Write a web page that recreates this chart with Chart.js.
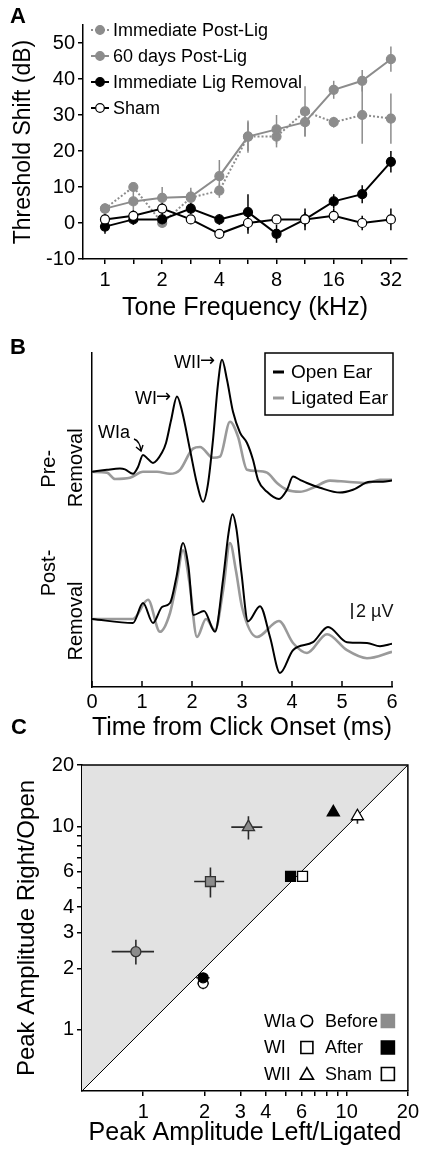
<!DOCTYPE html>
<html><head><meta charset="utf-8">
<script src="https://cdn.jsdelivr.net/npm/chart.js@4.4.1/dist/chart.umd.min.js"></script>
<style>
html,body{margin:0;padding:0;background:#fff;}
#wrap{position:relative;width:423px;height:1153px;overflow:hidden;background:#fff;}
canvas{position:absolute;left:0;top:0;}
</style></head><body>
<div id="wrap">
<canvas id="cA" width="423" height="1153"></canvas>
<canvas id="cB" width="423" height="1153"></canvas>
<canvas id="cC" width="423" height="1153"></canvas>
</div>
<script>
const FONT = "'Liberation Sans', Arial, Helvetica, sans-serif";
Chart.defaults.font.family = FONT;
Chart.defaults.color = '#000';

// ---------------- Panel A data ----------------
const freqKHz = [1, 1.41, 2, 2.83, 4, 5.66, 8, 11.3, 16, 22.6, 32];
const freqTickLabels = ['1', '', '2', '', '4', '', '8', '', '16', '', '32'];
const shiftTicks = [-10, 0, 10, 20, 30, 40, 50];
const immPostLig       = [4, 10, 0, 7, 9, 24, 24, 31, 28, 30, 29];
const immPostLigErr    = [1.5, 1, 1, 2, 2, 4, 3, 7, 1.5, 8, 7];
const days60PostLig    = [4, 6, 7, 7.3, 13, 24, 26, 28, 37, 39.5, 45.5];
const days60PostLigErr = [1, 3, 3, 2.5, 4.5, 4.5, 4, 4, 2.5, 3, 3.5];
const immLigRemoval    = [-1, 1, 1, 4, 1, 3, -3, 1, 6, 8, 17];
const immLigRemovalErr = [2, 1.5, 1.5, 1.5, 1.5, 5, 2.5, 2, 2, 2.5, 3];
const shamShift        = [1, 2, 4, 1, -3, 0, 1, 1, 2, 0, 1];
const shamShiftErr     = [1.5, 1.5, 1.5, 1, 1, 3, 1, 3, 2, 2, 3];

// ---------------- Panel B data (µV traces) ----------------
const timeTicks = [0, 1, 2, 3, 4, 5, 6];
const preOpenTime = [0, 0.3, 0.56, 0.66, 0.82, 0.92, 1.02, 1.12, 1.22, 1.4, 1.48, 1.58, 1.7, 1.8, 1.96, 2.1, 2.22, 2.32, 2.42, 2.52, 2.6, 2.7, 2.82, 2.96, 3.1, 3.22, 3.32, 3.5, 3.74, 3.9, 4.02, 4.16, 4.3, 4.56, 4.96, 5.22, 5.56, 5.82, 6.0];
const preOpenUV   = [0, 0.25, 0.4, 0.3, -0.25, 0.6, 2.1, 1.6, 1.1, 2.4, 3.6, 6.4, 9.4, 7.6, 2.75, -1.5, -3.75, -1.5, 4, 11, 14, 11.5, 7.5, 4.9, 3.6, 1.5, -1, -2.5, -3.4, -2.25, -0.6, -1, -1.4, -2, -2.6, -2.25, -1.25, -1.25, -1.1];
const preLigTime  = [0, 0.3, 0.46, 0.76, 1.02, 1.3, 1.56, 1.76, 2.02, 2.16, 2.42, 2.56, 2.76, 2.92, 3.1, 3.3, 3.5, 3.7, 3.9, 4.16, 4.42, 4.76, 5.1, 5.5, 5.76, 6.0];
const preLigUV    = [0, -0.1, -0.9, -0.75, 0, 0, -0.25, 0.25, 2.9, 3.1, 1.75, 1.9, 6.25, 4.4, 0.25, 0.1, -0.1, -1.4, -2.25, -2.5, -2, -1.1, -1.25, -1.4, -1, -1];
const postOpenTime = [0, 0.82, 1.02, 1.22, 1.4, 1.56, 1.69, 1.82, 1.93, 2.03, 2.24, 2.46, 2.62, 2.73, 2.81, 2.89, 2.99, 3.12, 3.36, 3.56, 3.76, 4.02, 4.42, 4.72, 5.1, 5.5, 5.76, 6.0];
const postOpenUV   = [0, -0.5, 2, -0.5, 1.5, 2, 5.3, 9.5, 6.5, 0.5, 1, -1.6, 4.9, 10.7, 13.1, 11.2, 5.7, -0.3, 1.6, -2.25, -6.75, -3.9, -2.9, -1, -2.9, -3, -3.4, -3.1];
const postLigTime  = [0, 0.82, 1.12, 1.36, 1.56, 1.69, 1.82, 1.95, 2.1, 2.28, 2.46, 2.62, 2.76, 2.88, 3.0, 3.3, 3.74, 4.02, 4.3, 4.7, 5.1, 5.5, 6.0];
const postLigUV    = [0, 0, 2.4, -1.6, 0.75, 4.5, 8.6, 4.5, -2.25, 0, -1.4, 3.5, 9.5, 6, 1.5, -2.25, -0.25, -3, -4.25, -1.9, -3.9, -4.9, -4.1];
const PRE_OFFSET = 18.4;      // display offset (µV) separating the pre-removal traces
const SCALE_BAR_UV = 2;
const SCALE_BAR_T = 5.2;
const waveLabelTimes = {WIa: 1.02, WI: 1.7, WII: 2.6};

// ---------------- Panel C data ----------------
const ampTicks  = [1, 2, 3, 4, 5, 6, 7, 8, 9, 10, 20];
const ampLabels = [1, 2, 3, 4, 6, 10, 20];
const waveNames = ['WIa', 'WI', 'WII'];
const waveStyles = ['circle', 'rect', 'triangle'];
const unityLine = [0.5, 20];
const beforeX = [0.92, 2.14, 3.29], beforeY = [2.42, 5.35, 9.9];
const beforeXLo = [0.70, 1.78, 2.71], beforeXHi = [1.13, 2.5, 3.85];
const beforeYLo = [2.09, 4.47, 8.6],  beforeYHi = [2.77, 6.27, 11.2];
const afterX = [1.97, 5.3, 8.6], afterY = [1.80, 5.67, 11.7];
const afterXLo = [1.82, 5.0, 8.3], afterXHi = [2.12, 5.6, 8.9];
const afterYLo = [1.72, 5.5, 11.3], afterYHi = [1.88, 5.85, 12.1];
const shamX = [1.97, 6.07, 11.3], shamY = [1.69, 5.67, 11.2];
const shamXLo = [1.85, 5.85, 10.9], shamXHi = [2.1, 6.3, 11.7];
const shamYLo = [1.58, 5.35, 10.3], shamYHi = [1.8, 5.9, 11.9];

// ---------------- helpers ----------------
const GRAY_A = '#8c8c8c';
const GRAY_B = '#9a9a9a';
const pts = (xs, ys, off = 0) => xs.map((x, i) => ({x: x, y: ys[i] + off}));
const axisGrid = {drawOnChartArea: false, drawTicks: true, tickLength: 5, color: '#000', lineWidth: 1.5};
const axisBorder = {display: true, color: '#000', width: 1.5};
const common = {responsive: false, animation: false, devicePixelRatio: 1,
  plugins: {legend: {display: false}, tooltip: {enabled: false}}};

const panelLetter = (txt, x, y) => ({id: 'letter' + txt, afterDraw(chart) {
  const c = chart.ctx; c.save(); c.font = 'bold 22px ' + FONT; c.fillStyle = '#000';
  c.textAlign = 'center'; c.textBaseline = 'middle'; c.fillText(txt, x, y); c.restore();
}});

function drawShape(ctx, style, x, y, r, fill, stroke, lw) {
  ctx.beginPath();
  if (style === 'circle') ctx.arc(x, y, r, 0, Math.PI * 2);
  else if (style === 'rect') ctx.rect(x - r, y - r, 2 * r, 2 * r);
  else { ctx.moveTo(x, y - r * 1.05); ctx.lineTo(x + r * 1.1, y + r * 0.85); ctx.lineTo(x - r * 1.1, y + r * 0.85); ctx.closePath(); }
  ctx.fillStyle = fill; ctx.fill(); ctx.lineWidth = lw; ctx.strokeStyle = stroke; ctx.stroke();
}

// ================= Panel A =================
const seriesA = [
  {label: 'Immediate Post-Lig', values: immPostLig, errors: immPostLigErr, color: GRAY_A, fill: GRAY_A, dash: [2, 2], order: 3},
  {label: '60 days Post-Lig', values: days60PostLig, errors: days60PostLigErr, color: GRAY_A, fill: GRAY_A, dash: [], order: 2},
  {label: 'Immediate Lig Removal', values: immLigRemoval, errors: immLigRemovalErr, color: '#000', fill: '#000', dash: [], order: 1},
  {label: 'Sham', values: shamShift, errors: shamShiftErr, color: '#000', fill: '#fff', dash: [], order: 0}
];

const errorBarsA = {id: 'errorBarsA', beforeDatasetsDraw(chart) {
  const {ctx, scales: {x, y}} = chart;
  ctx.save(); ctx.lineWidth = 1.5;
  chart.data.datasets.forEach(ds => {
    ctx.strokeStyle = ds.borderColor;
    ds.data.forEach((p, i) => {
      const e = ds.errors[i], px = x.getPixelForValue(p.x);
      ctx.beginPath(); ctx.moveTo(px, y.getPixelForValue(p.y - e)); ctx.lineTo(px, y.getPixelForValue(p.y + e)); ctx.stroke();
    });
  });
  ctx.restore();
}};

const legendA = {id: 'legendA', afterDatasetsDraw(chart) {
  const {ctx, chartArea: {left, top}} = chart;
  ctx.save(); ctx.font = '18px ' + FONT; ctx.textBaseline = 'middle';
  chart.data.datasets.forEach((ds, i) => {
    const yy = top + 5 + i * 26;
    ctx.strokeStyle = ds.borderColor; ctx.lineWidth = 2; ctx.setLineDash(ds.borderDash);
    ctx.beginPath(); ctx.moveTo(left + 8, yy); ctx.lineTo(left + 26, yy); ctx.stroke();
    ctx.setLineDash([]);
    drawShape(ctx, 'circle', left + 17, yy, 4.3, ds.pointBackgroundColor, ds.borderColor, 1.2);
    ctx.fillStyle = '#000'; ctx.fillText(ds.label, left + 30, yy + 1);
  });
  ctx.restore();
}};

new Chart(document.getElementById('cA'), {
  type: 'line',
  data: {datasets: seriesA.map(s => ({
    label: s.label, data: pts(freqKHz, s.values), errors: s.errors, order: s.order,
    borderColor: s.color, borderWidth: 2, borderDash: s.dash,
    pointRadius: 4.5, pointBackgroundColor: s.fill, pointBorderColor: s.color, pointBorderWidth: 1.2,
    tension: 0, fill: false
  }))},
  options: Object.assign({}, common, {
    layout: {padding: {left: 0, right: 16, top: 25, bottom: 830}},
    scales: {
      x: {type: 'logarithmic', min: 0.766, max: 38.9,
        afterBuildTicks: s => { s.ticks = freqKHz.map(v => ({value: v})); },
        ticks: {autoSkip: false, maxRotation: 0, padding: 4, font: {size: 20}, color: '#000', callback: (v, i) => freqTickLabels[i]},
        grid: axisGrid, border: axisBorder,
        title: {display: true, text: 'Tone Frequency (kHz)', font: {size: 25}, color: '#000', padding: 0},
        afterFit: s => { s.height = 64; }},
      y: {type: 'linear', min: -10, max: 55,
        afterBuildTicks: s => { s.ticks = shiftTicks.map(v => ({value: v})); },
        ticks: {padding: 3, font: {size: 20}, color: '#000'},
        grid: axisGrid, border: axisBorder,
        title: {display: true, text: 'Threshold Shift (dB)', font: {size: 23}, color: '#000', padding: {top: 10, bottom: 0}},
        afterFit: s => { s.width = 83; }}
    }
  }),
  plugins: [errorBarsA, legendA, panelLetter('A', 18, 17)]
});

// ================= Panel B =================
const decorB = {id: 'decorB', afterDraw(chart) {
  const {ctx, chartArea: ca, scales: {x, y}} = chart;
  ctx.save();
  // inward tick marks
  ctx.strokeStyle = '#000'; ctx.lineWidth = 1.5;
  timeTicks.forEach(t => { const px = x.getPixelForValue(t); ctx.beginPath(); ctx.moveTo(px, ca.bottom); ctx.lineTo(px, ca.bottom - 6); ctx.stroke(); });
  // rotated row labels
  ctx.fillStyle = '#000'; ctx.font = '20px ' + FONT; ctx.textAlign = 'center'; ctx.textBaseline = 'middle';
  const rot = (txt, cx, cy) => { ctx.save(); ctx.translate(cx, cy); ctx.rotate(-Math.PI / 2); ctx.fillText(txt, 0, 0); ctx.restore(); };
  const preY = y.getPixelForValue(PRE_OFFSET), postY = y.getPixelForValue(0);
  rot('Pre-', 49, preY - 3); rot('Removal', 76, preY - 4);
  rot('Post-', 49, postY - 46); rot('Removal', 76, postY + 2);
  // wave labels: text + arrow glyph
  const peak = (t, v) => ({px: x.getPixelForValue(t), py: y.getPixelForValue(v + PRE_OFFSET)});
  const idx = t => preOpenTime.indexOf(t);
  const labelArrow = (txt, rx, cy) => {
    ctx.textAlign = 'right';
    ctx.font = '18px "DejaVu Sans", sans-serif';
    ctx.fillText('\u2192', rx, cy);
    const aw = ctx.measureText('\u2192').width;
    ctx.font = '18px ' + FONT;
    ctx.fillText(txt, rx - aw + 1, cy + 1);
  };
  let p = peak(waveLabelTimes.WII, preOpenUV[idx(waveLabelTimes.WII)]);
  labelArrow('WII', p.px - 7, p.py + 2);
  p = peak(waveLabelTimes.WI, preOpenUV[idx(waveLabelTimes.WI)]);
  labelArrow('WI', p.px - 6, p.py + 1);
  p = peak(waveLabelTimes.WIa, preOpenUV[idx(waveLabelTimes.WIa)]);
  ctx.textAlign = 'right'; ctx.font = '18px ' + FONT;
  ctx.fillText('WIa', p.px - 13, p.py - 22);
  // small arrow to WIa
  const ax0 = p.px - 9, ay0 = p.py - 16, ax1 = p.px - 2, ay1 = p.py - 4;
  ctx.lineWidth = 1.4; ctx.beginPath(); ctx.moveTo(ax0, ay0); ctx.quadraticCurveTo(ax1 - 1, ay0 + 2, ax1, ay1); ctx.stroke();
  ctx.beginPath(); ctx.moveTo(ax1 - 5, ay1 - 4); ctx.lineTo(ax1, ay1); ctx.lineTo(ax1 + 2, ay1 - 6); ctx.stroke();
  // legend box
  ctx.lineWidth = 1.5; ctx.strokeRect(ca.right - 127, ca.top, 128, 62);
  ctx.textAlign = 'left'; ctx.font = '19px ' + FONT;
  chart.data.datasets.slice(0, 2).forEach((ds, i) => {
    const yy = ca.top + 19 + i * 26;
    ctx.strokeStyle = ds.borderColor; ctx.lineWidth = 3;
    ctx.beginPath(); ctx.moveTo(ca.right - 119, yy); ctx.lineTo(ca.right - 108, yy); ctx.stroke();
    ctx.fillStyle = '#000'; ctx.fillText(ds.label, ca.right - 101, yy + 1);
  });
  // scale bar
  const sx = x.getPixelForValue(SCALE_BAR_T);
  ctx.strokeStyle = '#000'; ctx.lineWidth = 1.5;
  ctx.beginPath(); ctx.moveTo(sx, y.getPixelForValue(0)); ctx.lineTo(sx, y.getPixelForValue(SCALE_BAR_UV)); ctx.stroke();
  ctx.font = '18px ' + FONT; ctx.fillStyle = '#111';
  ctx.fillText(SCALE_BAR_UV + ' \u00b5V', sx + 4, y.getPixelForValue(SCALE_BAR_UV / 2) + 1);
  ctx.restore();
}};

const traceStyle = (label, color, w) => ({label: label, borderColor: color, borderWidth: w, pointRadius: 0, cubicInterpolationMode: 'monotone', fill: false});
new Chart(document.getElementById('cB'), {
  type: 'line',
  data: {datasets: [
    Object.assign({data: pts(preOpenTime, preOpenUV, PRE_OFFSET), order: 0}, traceStyle('Open Ear', '#000', 2)),
    Object.assign({data: pts(preLigTime, preLigUV, PRE_OFFSET), order: 1}, traceStyle('Ligated Ear', GRAY_B, 2.6)),
    Object.assign({data: pts(postOpenTime, postOpenUV), order: 0}, traceStyle('Open Ear', '#000', 2)),
    Object.assign({data: pts(postLigTime, postLigUV), order: 1}, traceStyle('Ligated Ear', GRAY_B, 2.6))
  ]},
  options: Object.assign({}, common, {
    layout: {padding: {left: 0, right: 31, top: 353, bottom: 1153 - 687 - 56}},
    scales: {
      x: {type: 'linear', min: 0, max: 6,
        afterBuildTicks: s => { s.ticks = timeTicks.map(v => ({value: v})); },
        ticks: {autoSkip: false, maxRotation: 0, padding: 3, font: {size: 20}, color: '#000'},
        grid: {display: true, drawOnChartArea: false, drawTicks: false, color: '#000'}, border: axisBorder,
        title: {display: true, text: 'Time from Click Onset (ms)', font: {size: 25}, color: '#000', padding: 0},
        afterFit: s => { s.height = 56; }},
      y: {type: 'linear', min: -8.5, max: 33.25,
        ticks: {display: false}, grid: {display: false}, border: axisBorder,
        afterFit: s => { s.width = 92; }}
    }
  }),
  plugins: [decorB, panelLetter('B', 18, 348), panelLetter('C', 19, 728)]
});

// ================= Panel C =================
const condDefs = [
  {label: 'Before', x: beforeX, y: beforeY, xlo: beforeXLo, xhi: beforeXHi, ylo: beforeYLo, yhi: beforeYHi, fill: '#8c8c8c', stroke: '#333', key: '#8c8c8c'},
  {label: 'After', x: afterX, y: afterY, xlo: afterXLo, xhi: afterXHi, ylo: afterYLo, yhi: afterYHi, fill: '#000', stroke: '#000', key: '#000'},
  {label: 'Sham', x: shamX, y: shamY, xlo: shamXLo, xhi: shamXHi, ylo: shamYLo, yhi: shamYHi, fill: '#fff', stroke: '#000', key: '#fff'}
];
const TRI_INDEX = 3;

const errorBarsC = {id: 'errorBarsC', afterDatasetDraw(chart, args) {
  if (args.index !== TRI_INDEX) return;
  const {ctx, scales: {x, y}} = chart;
  ctx.save(); ctx.strokeStyle = '#2a2a2a'; ctx.lineWidth = 1.6;
  condDefs.forEach(c => {
    c.x.forEach((xv, i) => {
      const px = x.getPixelForValue(xv), py = y.getPixelForValue(c.y[i]);
      ctx.beginPath();
      ctx.moveTo(x.getPixelForValue(c.xlo[i]), py); ctx.lineTo(x.getPixelForValue(c.xhi[i]), py);
      ctx.moveTo(px, y.getPixelForValue(c.ylo[i])); ctx.lineTo(px, y.getPixelForValue(c.yhi[i]));
      ctx.stroke();
    });
  });
  ctx.restore();
}};

const decorC = {id: 'decorC', afterDatasetsDraw(chart) {
  const {ctx, chartArea: ca} = chart;
  ctx.save(); ctx.strokeStyle = '#000'; ctx.lineWidth = 1.5;
  ctx.beginPath(); ctx.moveTo(ca.left, ca.top); ctx.lineTo(ca.right, ca.top); ctx.lineTo(ca.right, ca.bottom); ctx.stroke();
  // legend
  ctx.font = '18px ' + FONT; ctx.textBaseline = 'middle'; ctx.textAlign = 'left';
  waveNames.forEach((w, i) => {
    const yy = ca.bottom - 70 + i * 26.5;
    ctx.fillStyle = '#000'; ctx.fillText(w, ca.right - 144, yy + 1);
    drawShape(ctx, waveStyles[i], ca.right - 101, yy, waveStyles[i] === 'circle' ? 5.8 : 6, '#fff', '#000', 1.6);
    const c = condDefs[i];
    ctx.fillStyle = '#000'; ctx.fillText(c.label, ca.right - 83, yy + 1);
    drawShape(ctx, 'rect', ca.right - 20, yy, 6.5, c.key, c.key === '#fff' ? '#000' : c.key, 1.6);
  });
  ctx.restore();
}};

new Chart(document.getElementById('cC'), {
  type: 'scatter',
  data: {datasets: condDefs.map((c, k) => ({
    label: c.label, data: pts(c.x, c.y), order: k,
    pointStyle: waveStyles, pointRadius: [5, 7, 7], pointBackgroundColor: c.fill, pointBorderColor: c.stroke, pointBorderWidth: 1.3
  })).concat([{
    type: 'line', label: 'unity', data: pts(unityLine, unityLine), order: 10,
    borderColor: '#000', borderWidth: 1, pointRadius: 0, fill: 'end', backgroundColor: '#e2e2e2', tension: 0
  }])},
  options: Object.assign({}, common, {
    layout: {padding: {left: 0, right: 13, top: 765, bottom: 5}},
    scales: {
      x: {type: 'logarithmic', min: 0.5, max: 20,
        afterBuildTicks: s => { s.ticks = ampTicks.map(v => ({value: v})); },
        ticks: {autoSkip: false, maxRotation: 0, padding: 4, font: {size: 20}, color: '#000', callback: v => ampLabels.includes(v) ? String(v) : ''},
        grid: axisGrid, border: axisBorder,
        title: {display: true, text: 'Peak Amplitude Left/Ligated', font: {size: 25}, color: '#000', padding: 0},
        afterFit: s => { s.height = 57; }},
      y: {type: 'logarithmic', min: 0.5, max: 20,
        afterBuildTicks: s => { s.ticks = ampTicks.map(v => ({value: v})); },
        ticks: {autoSkip: false, padding: 3, font: {size: 20}, color: '#000', callback: v => ampLabels.includes(v) ? String(v) : ''},
        grid: axisGrid, border: axisBorder,
        title: {display: true, text: 'Peak Amplitude Right/Open', font: {size: 24}, color: '#000', padding: {top: 13, bottom: 0}},
        afterFit: s => { s.width = 82; }}
    }
  }),
  plugins: [errorBarsC, decorC]
});
</script></body></html>
